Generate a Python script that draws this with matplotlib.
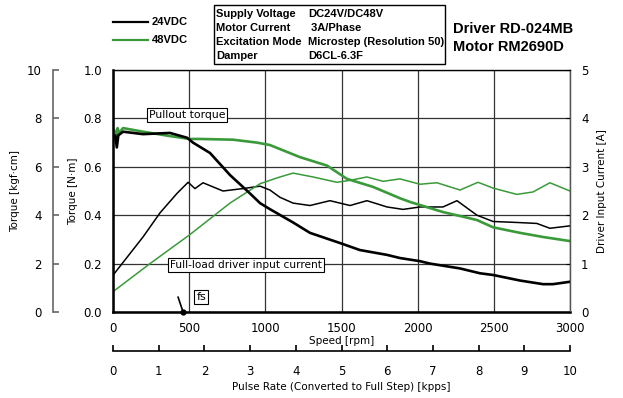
import matplotlib.pyplot as plt
from matplotlib.patches import Rectangle

NARROW = ['Liberation Sans Narrow', 'DejaVu Sans']
plt.rcParams['font.family'] = NARROW

# pullout torque, 24VDC [N·m]
rpm_t24 = [0, 15, 25, 35, 66, 197, 374, 486, 525, 637, 768, 899, 965, 1030,
           1182, 1293, 1490, 1621, 1799, 1884, 2015, 2081, 2278, 2409, 2495,
           2672, 2823, 2888, 3000]
torque_24 = [0.72, 0.73, 0.68, 0.73, 0.745, 0.735, 0.74, 0.72, 0.70, 0.657,
             0.566, 0.49, 0.45, 0.425, 0.37, 0.327, 0.285, 0.256, 0.236, 0.223,
             0.21, 0.2, 0.18, 0.16, 0.153, 0.13, 0.115, 0.115, 0.125]

# pullout torque, 48VDC [N·m]
rpm_t48 = [0, 10, 20, 30, 40, 66, 197, 374, 505, 571, 788, 945, 1030, 1227,
           1405, 1536, 1707, 1884, 1949, 2166, 2323, 2389, 2495, 2672, 2823, 3000]
torque_48 = [0.70, 0.75, 0.71, 0.76, 0.74, 0.76, 0.745, 0.727, 0.715, 0.715,
             0.712, 0.70, 0.69, 0.64, 0.605, 0.55, 0.517, 0.47, 0.455, 0.413,
             0.39, 0.38, 0.35, 0.327, 0.31, 0.293]

# driver input current, 24VDC [A]
rpm_c24 = [0, 197, 309, 420, 493, 538, 591, 722, 853, 965, 1030, 1096, 1182,
           1293, 1424, 1556, 1667, 1799, 1904, 2015, 2081, 2166, 2258, 2389,
           2495, 2651, 2782, 2868, 3000]
current_24 = [0.76, 1.55, 2.05, 2.45, 2.68, 2.55, 2.67, 2.5, 2.55, 2.6, 2.52,
              2.37, 2.25, 2.2, 2.3, 2.2, 2.3, 2.17, 2.12, 2.17, 2.17, 2.17,
              2.3, 2.0, 1.87, 1.85, 1.83, 1.73, 1.78]

# driver input current, 48VDC [A]
rpm_c48 = [0, 243, 505, 768, 965, 1076, 1182, 1313, 1470, 1556, 1667, 1773,
           1884, 2015, 2127, 2278, 2396, 2495, 2651, 2757, 2868, 3000]
current_48 = [0.42, 1.0, 1.6, 2.25, 2.65, 2.77, 2.87, 2.79, 2.68, 2.72, 2.79,
              2.7, 2.75, 2.64, 2.67, 2.52, 2.68, 2.56, 2.43, 2.48, 2.67, 2.5]

fs_rpm = 460
speed_ticks = [0, 500, 1000, 1500, 2000, 2500, 3000]
green = '#3a9a3a'

fig = plt.figure(figsize=(6.23, 3.98), dpi=100)
W, H = 623, 398
L, R, T, B = 113, 570, 70, 312
ax = fig.add_axes([L / W, 1 - B / H, (R - L) / W, (B - T) / H])

ax.plot(rpm_c24, [c / 5 for c in current_24], color='black', lw=1.1)
ax.plot(rpm_c48, [c / 5 for c in current_48], color=green, lw=1.1)
ax.plot(rpm_t48, torque_48, color=green, lw=1.9)
ax.plot(rpm_t24, torque_24, color='black', lw=1.9)

ax.set_xlim(0, 3000)
ax.set_ylim(0, 1.0)
ax.set_xticks(speed_ticks)
ax.set_yticks([0, 0.2, 0.4, 0.6, 0.8, 1.0])
ax.set_yticklabels(['0.0', '0.2', '0.4', '0.6', '0.8', '1.0'])
ax.grid(True, color='#333333', lw=0.9)
ax.tick_params(direction='in', length=0, labelsize=8.5, pad=8)
ax.tick_params(axis='x', pad=7)
for s in ['left', 'bottom']:
    ax.spines[s].set_linewidth(1.8)
for s in ['top', 'right']:
    ax.spines[s].set_linewidth(0.9)
ax.set_xlabel('Speed [rpm]', fontsize=7.5, labelpad=1)
ax.set_ylabel('Torque [N·m]', fontsize=7.5, labelpad=4)

# right axis, current
axr = ax.twinx()
axr.set_ylim(0, 5)
axr.set_yticks(range(6))
axr.tick_params(direction='in', length=3, labelsize=8.5, pad=8)
axr.spines['right'].set_color('#555555')
axr.set_ylabel('Driver Input Current [A]', fontsize=7.5, labelpad=6)

# left outer axis, kgf·cm
axk = fig.add_axes([53 / W, 1 - B / H, 0.001, (B - T) / H])
axk.set_ylim(0, 10)
axk.set_yticks(range(0, 11, 2))
axk.set_xticks([])
for s in ['top', 'right', 'bottom']:
    axk.spines[s].set_visible(False)
axk.spines['left'].set_color('#666666')
axk.spines['left'].set_linewidth(1.2)
axk.patch.set_visible(False)
axk.tick_params(axis='y', direction='in', length=4, width=1.2, color='#666666',
                labelsize=8.5, pad=8)
axk.set_ylabel('Torque [kgf·cm]', fontsize=7.5, labelpad=5)

# bottom pulse-rate axis
axp = fig.add_axes([L / W, 1 - 351 / H, (R - L) / W, 0.001])
axp.set_xlim(0, 10)
axp.set_xticks(range(11))
axp.set_yticks([])
for s in ['top', 'right', 'left']:
    axp.spines[s].set_visible(False)
axp.spines['bottom'].set_linewidth(1.2)
axp.patch.set_visible(False)
axp.tick_params(axis='x', direction='in', length=4, width=1.2, labelsize=8.5, pad=10)
axp.set_xlabel('Pulse Rate (Converted to Full Step) [kpps]', fontsize=7.5, labelpad=3)

# annotations
box = dict(boxstyle='square,pad=0.2', fc='white', ec='black', lw=0.8)
ax.text(486, 0.814, 'Pullout torque', fontsize=7.8, ha='center', va='center', bbox=box)
ax.text(873, 0.194, 'Full-load driver input current', fontsize=7.6, ha='center',
        va='center', bbox=box)
ax.text(580, 0.062, 'fs', fontsize=8, ha='center', va='center', bbox=box)
ax.annotate('', xy=(fs_rpm, 0), xytext=(427, 0.062),
            arrowprops=dict(arrowstyle='-', color='black', lw=1.2,
                            shrinkA=0, shrinkB=0))
ax.plot([fs_rpm], [0], 'o', color='black', ms=3.5, clip_on=False, zorder=5)

# legend
fig.add_artist(plt.Line2D([113 / W, 148 / W], [1 - 22 / H, 1 - 22 / H], color='black', lw=1.6))
fig.add_artist(plt.Line2D([113 / W, 148 / W], [1 - 40 / H, 1 - 40 / H], color=green, lw=1.6))
hdr = dict(family=['Liberation Sans', 'DejaVu Sans'], weight='bold', fontsize=8, va='center')
fig.text(152 / W, 1 - 22 / H, '24VDC', **hdr)
fig.text(152 / W, 1 - 40 / H, '48VDC', **hdr)

# conditions box
fig.add_artist(Rectangle((214 / W, 1 - 64 / H), 231 / W, 59 / H, transform=fig.transFigure,
                         fill=False, ec='black', lw=1.0))
rows = [('Supply Voltage', 'DC24V/DC48V'), ('Motor Current', ' 3A/Phase'),
        ('Excitation Mode', 'Microstep (Resolution 50)'), ('Damper', 'D6CL-6.3F')]
for i, (k, v) in enumerate(rows):
    y = 1 - (14 + 14 * i) / H
    fig.text(216 / W, y, k, **hdr)
    fig.text(308 / W, y, v, **hdr)

big = dict(family=['Liberation Sans', 'DejaVu Sans'], weight='bold', fontsize=10.5, va='center')
fig.text(453 / W, 1 - 29 / H, 'Driver RD-024MB', **big)
fig.text(453 / W, 1 - 47 / H, 'Motor RM2690D', **big)

fig.savefig('out.png', dpi=100)
